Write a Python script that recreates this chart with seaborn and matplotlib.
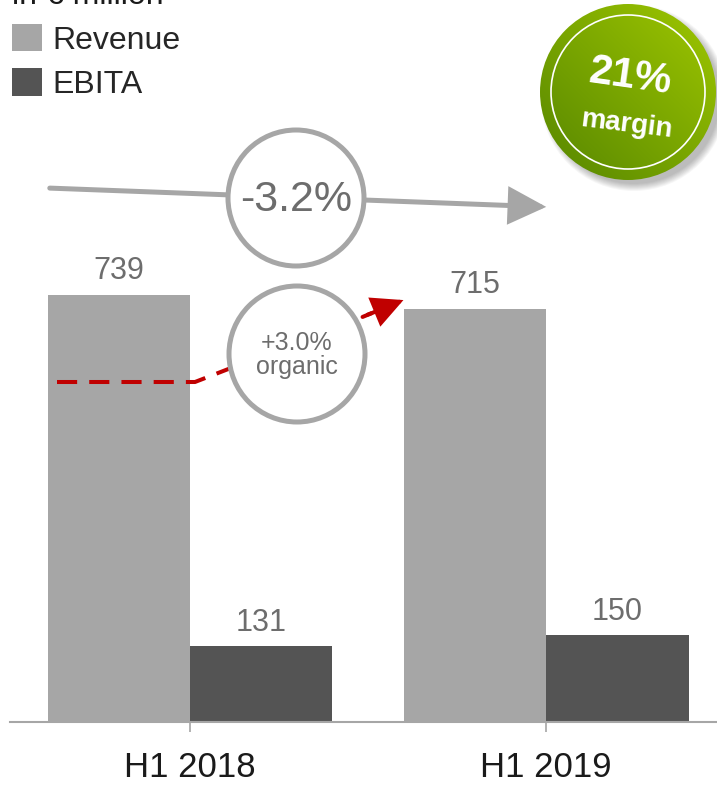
import numpy as np
import pandas as pd
import matplotlib
matplotlib.use('Agg')
import matplotlib.pyplot as plt
import seaborn as sns
from matplotlib.patches import Circle, FancyArrowPatch
from matplotlib.lines import Line2D
from matplotlib.transforms import Affine2D

# data
periods = ['H1 2018', 'H1 2019']
series = ['Revenue', 'EBITA']
revenue = [739, 715]
ebita = [131, 150]
growth_total = '-3.2%'
growth_organic = '+3.0%\norganic'
margin_text = '21%'

sns.set_theme(style='white')
plt.rcParams['font.family'] = ['Liberation Sans', 'DejaVu Sans']

df = pd.DataFrame({
    'period': periods * 2,
    'series': [series[0]] * 2 + [series[1]] * 2,
    'value': revenue + ebita,
})

W, H = 717, 785
fig = plt.figure(figsize=(W / 100, H / 100), dpi=100)
# pixel transform: x from left, y from top
pix = Affine2D().scale(1 / W, -1 / H).translate(0, 1) + fig.transFigure

ax = fig.add_axes([10 / W, 63 / H, 707 / W, 722 / H])
ax.patch.set_visible(False)
sns.barplot(data=df, x='period', y='value', hue='series',
            palette=['#a6a6a6', '#545454'], saturation=1, ax=ax, width=0.8,
            linewidth=0)
ax.set_ylim(0, 1249)
ax.set_xlim(-0.5056, 1.48)
for c in ax.containers:
    ax.bar_label(c, padding=6, fontsize=22, color='#6d6d6d')

for s in ['top', 'right', 'left']:
    ax.spines[s].set_visible(False)
ax.spines['bottom'].set_color('#a6a6a6')
ax.spines['bottom'].set_linewidth(1.5)
ax.set_yticks([])
ax.set_xlabel('')
ax.set_ylabel('')
ax.tick_params(axis='x', bottom=True, length=7, width=1.2, color='#a6a6a6',
               labelsize=25, labelcolor='#1a1a1a', pad=14)

handles, labels = ax.get_legend_handles_labels()
ax.legend(handles, labels, loc='upper left', bbox_to_anchor=(12, 24),
          bbox_transform=pix, frameon=False, fontsize=23, handlelength=0.94,
          handleheight=0.94, handletextpad=0.32, borderpad=0, borderaxespad=0,
          labelspacing=0.4)

# unit line, cut at the top edge as in the original slide
fig.text(12, 4, 'in € million', transform=pix, fontsize=23, color='#1a1a1a',
         va='baseline', ha='left')

grey = '#a6a6a6'
# total growth arrow
fig.add_artist(FancyArrowPatch((47, 188), (549, 207), transform=pix,
                               arrowstyle='-|>,head_length=2.2,head_width=1.1',
                               mutation_scale=10, color=grey, lw=3.6,
                               joinstyle='miter', zorder=3))
fig.add_artist(Circle((296, 198), 68, transform=pix, facecolor='white',
                      edgecolor=grey, lw=3.6, zorder=4))
fig.text(296, 200, growth_total, transform=pix, fontsize=31, color='#6d6d6d',
         ha='center', va='center', zorder=5)

# organic growth arrow
red = '#c00000'
fig.add_artist(Line2D([57, 195, 372], [382, 382, 313], transform=pix,
                      color=red, lw=2.9, dashes=(5, 3), zorder=3))
fig.add_artist(FancyArrowPatch((360, 318), (406, 299), transform=pix,
                               arrowstyle='-|>,head_length=1.8,head_width=0.9',
                               mutation_scale=10, color=red, lw=2.9,
                               joinstyle='miter', zorder=3))
fig.add_artist(Circle((297, 354), 68, transform=pix, facecolor='white',
                      edgecolor=grey, lw=3.6, zorder=4))
fig.text(297, 355, growth_organic, transform=pix, fontsize=18, color='#6d6d6d',
         ha='center', va='center', linespacing=1.05, zorder=5)

# margin badge
for k in range(8):
    fig.add_artist(Circle((634, 98), 86 + k, transform=pix, facecolor='#000000',
                          edgecolor='none', alpha=0.035, zorder=5))
gax = fig.add_axes([538 / W, (H - 182) / H, 180 / W, 180 / H], zorder=6)
gax.axis('off')
yy, xx = np.mgrid[0:1:200j, 0:1:200j]
t = (xx + yy) / 2
dark = np.array([0x55, 0x85, 0x00]) / 255
light = np.array([0xa0, 0xc8, 0x00]) / 255
img = dark[None, None, :] * (1 - t[..., None]) + light[None, None, :] * t[..., None]
im = gax.imshow(img, extent=[0, 1, 0, 1], origin='lower', aspect='auto')
clip = Circle((0.5, 0.5), 88 / 180, transform=gax.transAxes)
im.set_clip_path(clip)
gax.add_patch(Circle((0.5, 0.5), 77 / 180, transform=gax.transAxes,
                     facecolor='none', edgecolor='white', lw=1.2))
gax.text(0.51, 0.585, margin_text, transform=gax.transAxes, fontsize=30,
         fontweight='bold', color='white', ha='center', va='center',
         rotation=-8)
gax.text(0.49, 0.32, 'margin', transform=gax.transAxes, fontsize=20,
         fontweight='bold', color='white', ha='center', va='center',
         rotation=-7)

fig.savefig('out.png', dpi=100)
